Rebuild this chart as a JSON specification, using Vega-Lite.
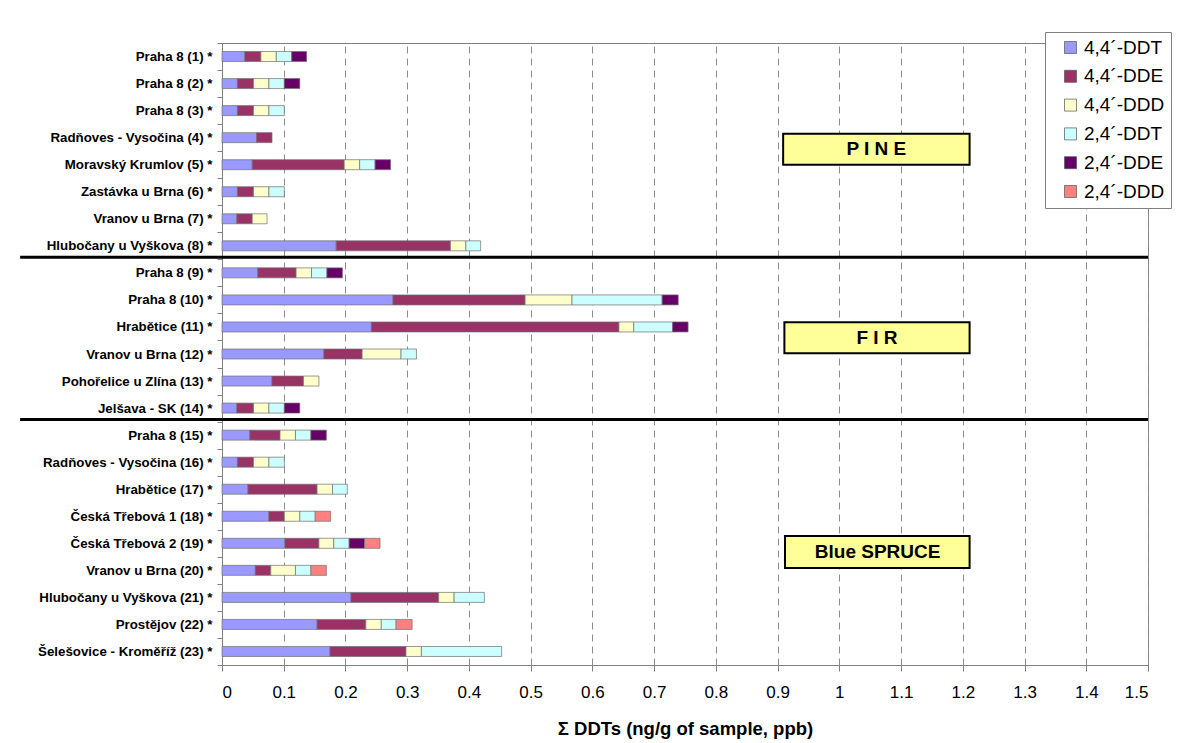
{
  "$schema": "https://vega.github.io/schema/vega-lite/v6.json",
  "width": 926,
  "height": 622,
  "autosize": {"type": "none"},
  "padding": {"left": 222, "top": 43, "right": 45, "bottom": 78},
  "background": "white",
  "config": {
    "font": "Liberation Sans",
    "view": {"stroke": "#808080", "strokeWidth": 1},
    "axis": {"labelColor": "black", "titleColor": "black", "domainColor": "#808080", "tickColor": "#808080"}
  },
  "datasets": {
    "ddt": [
      {"site": "Praha 8 (1) *", "compound": "4,4´-DDT", "n": 1, "value": 0.037},
      {"site": "Praha 8 (1) *", "compound": "4,4´-DDE", "n": 2, "value": 0.026},
      {"site": "Praha 8 (1) *", "compound": "4,4´-DDD", "n": 3, "value": 0.025},
      {"site": "Praha 8 (1) *", "compound": "2,4´-DDT", "n": 4, "value": 0.025},
      {"site": "Praha 8 (1) *", "compound": "2,4´-DDE", "n": 5, "value": 0.024},
      {"site": "Praha 8 (2) *", "compound": "4,4´-DDT", "n": 1, "value": 0.025},
      {"site": "Praha 8 (2) *", "compound": "4,4´-DDE", "n": 2, "value": 0.026},
      {"site": "Praha 8 (2) *", "compound": "4,4´-DDD", "n": 3, "value": 0.025},
      {"site": "Praha 8 (2) *", "compound": "2,4´-DDT", "n": 4, "value": 0.025},
      {"site": "Praha 8 (2) *", "compound": "2,4´-DDE", "n": 5, "value": 0.025},
      {"site": "Praha 8 (3) *", "compound": "4,4´-DDT", "n": 1, "value": 0.025},
      {"site": "Praha 8 (3) *", "compound": "4,4´-DDE", "n": 2, "value": 0.026},
      {"site": "Praha 8 (3) *", "compound": "4,4´-DDD", "n": 3, "value": 0.025},
      {"site": "Praha 8 (3) *", "compound": "2,4´-DDT", "n": 4, "value": 0.025},
      {"site": "Radňoves - Vysočina (4) *", "compound": "4,4´-DDT", "n": 1, "value": 0.056},
      {"site": "Radňoves - Vysočina (4) *", "compound": "4,4´-DDE", "n": 2, "value": 0.025},
      {"site": "Moravský Krumlov (5) *", "compound": "4,4´-DDT", "n": 1, "value": 0.049},
      {"site": "Moravský Krumlov (5) *", "compound": "4,4´-DDE", "n": 2, "value": 0.149},
      {"site": "Moravský Krumlov (5) *", "compound": "4,4´-DDD", "n": 3, "value": 0.025},
      {"site": "Moravský Krumlov (5) *", "compound": "2,4´-DDT", "n": 4, "value": 0.025},
      {"site": "Moravský Krumlov (5) *", "compound": "2,4´-DDE", "n": 5, "value": 0.025},
      {"site": "Zastávka u Brna (6) *", "compound": "4,4´-DDT", "n": 1, "value": 0.025},
      {"site": "Zastávka u Brna (6) *", "compound": "4,4´-DDE", "n": 2, "value": 0.026},
      {"site": "Zastávka u Brna (6) *", "compound": "4,4´-DDD", "n": 3, "value": 0.025},
      {"site": "Zastávka u Brna (6) *", "compound": "2,4´-DDT", "n": 4, "value": 0.025},
      {"site": "Vranov u Brna (7) *", "compound": "4,4´-DDT", "n": 1, "value": 0.024},
      {"site": "Vranov u Brna (7) *", "compound": "4,4´-DDE", "n": 2, "value": 0.025},
      {"site": "Vranov u Brna (7) *", "compound": "4,4´-DDD", "n": 3, "value": 0.024},
      {"site": "Hlubočany u Vyškova (8) *", "compound": "4,4´-DDT", "n": 1, "value": 0.185},
      {"site": "Hlubočany u Vyškova (8) *", "compound": "4,4´-DDE", "n": 2, "value": 0.185},
      {"site": "Hlubočany u Vyškova (8) *", "compound": "4,4´-DDD", "n": 3, "value": 0.025},
      {"site": "Hlubočany u Vyškova (8) *", "compound": "2,4´-DDT", "n": 4, "value": 0.024},
      {"site": "Praha 8 (9) *", "compound": "4,4´-DDT", "n": 1, "value": 0.058},
      {"site": "Praha 8 (9) *", "compound": "4,4´-DDE", "n": 2, "value": 0.062},
      {"site": "Praha 8 (9) *", "compound": "4,4´-DDD", "n": 3, "value": 0.025},
      {"site": "Praha 8 (9) *", "compound": "2,4´-DDT", "n": 4, "value": 0.025},
      {"site": "Praha 8 (9) *", "compound": "2,4´-DDE", "n": 5, "value": 0.025},
      {"site": "Praha 8 (10) *", "compound": "4,4´-DDT", "n": 1, "value": 0.277},
      {"site": "Praha 8 (10) *", "compound": "4,4´-DDE", "n": 2, "value": 0.214},
      {"site": "Praha 8 (10) *", "compound": "4,4´-DDD", "n": 3, "value": 0.076},
      {"site": "Praha 8 (10) *", "compound": "2,4´-DDT", "n": 4, "value": 0.146},
      {"site": "Praha 8 (10) *", "compound": "2,4´-DDE", "n": 5, "value": 0.026},
      {"site": "Hrabětice (11) *", "compound": "4,4´-DDT", "n": 1, "value": 0.242},
      {"site": "Hrabětice (11) *", "compound": "4,4´-DDE", "n": 2, "value": 0.401},
      {"site": "Hrabětice (11) *", "compound": "4,4´-DDD", "n": 3, "value": 0.024},
      {"site": "Hrabětice (11) *", "compound": "2,4´-DDT", "n": 4, "value": 0.063},
      {"site": "Hrabětice (11) *", "compound": "2,4´-DDE", "n": 5, "value": 0.025},
      {"site": "Vranov u Brna (12) *", "compound": "4,4´-DDT", "n": 1, "value": 0.165},
      {"site": "Vranov u Brna (12) *", "compound": "4,4´-DDE", "n": 2, "value": 0.062},
      {"site": "Vranov u Brna (12) *", "compound": "4,4´-DDD", "n": 3, "value": 0.063},
      {"site": "Vranov u Brna (12) *", "compound": "2,4´-DDT", "n": 4, "value": 0.025},
      {"site": "Pohořelice u Zlína (13) *", "compound": "4,4´-DDT", "n": 1, "value": 0.081},
      {"site": "Pohořelice u Zlína (13) *", "compound": "4,4´-DDE", "n": 2, "value": 0.051},
      {"site": "Pohořelice u Zlína (13) *", "compound": "4,4´-DDD", "n": 3, "value": 0.025},
      {"site": "Jelšava - SK (14) *", "compound": "4,4´-DDT", "n": 1, "value": 0.024},
      {"site": "Jelšava - SK (14) *", "compound": "4,4´-DDE", "n": 2, "value": 0.027},
      {"site": "Jelšava - SK (14) *", "compound": "4,4´-DDD", "n": 3, "value": 0.025},
      {"site": "Jelšava - SK (14) *", "compound": "2,4´-DDT", "n": 4, "value": 0.025},
      {"site": "Jelšava - SK (14) *", "compound": "2,4´-DDE", "n": 5, "value": 0.025},
      {"site": "Praha 8 (15) *", "compound": "4,4´-DDT", "n": 1, "value": 0.045},
      {"site": "Praha 8 (15) *", "compound": "4,4´-DDE", "n": 2, "value": 0.049},
      {"site": "Praha 8 (15) *", "compound": "4,4´-DDD", "n": 3, "value": 0.025},
      {"site": "Praha 8 (15) *", "compound": "2,4´-DDT", "n": 4, "value": 0.025},
      {"site": "Praha 8 (15) *", "compound": "2,4´-DDE", "n": 5, "value": 0.025},
      {"site": "Radňoves - Vysočina (16) *", "compound": "4,4´-DDT", "n": 1, "value": 0.025},
      {"site": "Radňoves - Vysočina (16) *", "compound": "4,4´-DDE", "n": 2, "value": 0.026},
      {"site": "Radňoves - Vysočina (16) *", "compound": "4,4´-DDD", "n": 3, "value": 0.025},
      {"site": "Radňoves - Vysočina (16) *", "compound": "2,4´-DDT", "n": 4, "value": 0.025},
      {"site": "Hrabětice (17) *", "compound": "4,4´-DDT", "n": 1, "value": 0.042},
      {"site": "Hrabětice (17) *", "compound": "4,4´-DDE", "n": 2, "value": 0.112},
      {"site": "Hrabětice (17) *", "compound": "4,4´-DDD", "n": 3, "value": 0.025},
      {"site": "Hrabětice (17) *", "compound": "2,4´-DDT", "n": 4, "value": 0.024},
      {"site": "Česká Třebová 1 (18) *", "compound": "4,4´-DDT", "n": 1, "value": 0.076},
      {"site": "Česká Třebová 1 (18) *", "compound": "4,4´-DDE", "n": 2, "value": 0.025},
      {"site": "Česká Třebová 1 (18) *", "compound": "4,4´-DDD", "n": 3, "value": 0.025},
      {"site": "Česká Třebová 1 (18) *", "compound": "2,4´-DDT", "n": 4, "value": 0.025},
      {"site": "Česká Třebová 1 (18) *", "compound": "2,4´-DDD", "n": 6, "value": 0.025},
      {"site": "Česká Třebová 2 (19) *", "compound": "4,4´-DDT", "n": 1, "value": 0.102},
      {"site": "Česká Třebová 2 (19) *", "compound": "4,4´-DDE", "n": 2, "value": 0.055},
      {"site": "Česká Třebová 2 (19) *", "compound": "4,4´-DDD", "n": 3, "value": 0.024},
      {"site": "Česká Třebová 2 (19) *", "compound": "2,4´-DDT", "n": 4, "value": 0.025},
      {"site": "Česká Třebová 2 (19) *", "compound": "2,4´-DDE", "n": 5, "value": 0.025},
      {"site": "Česká Třebová 2 (19) *", "compound": "2,4´-DDD", "n": 6, "value": 0.025},
      {"site": "Vranov u Brna (20) *", "compound": "4,4´-DDT", "n": 1, "value": 0.054},
      {"site": "Vranov u Brna (20) *", "compound": "4,4´-DDE", "n": 2, "value": 0.025},
      {"site": "Vranov u Brna (20) *", "compound": "4,4´-DDD", "n": 3, "value": 0.040},
      {"site": "Vranov u Brna (20) *", "compound": "2,4´-DDT", "n": 4, "value": 0.025},
      {"site": "Vranov u Brna (20) *", "compound": "2,4´-DDD", "n": 6, "value": 0.025},
      {"site": "Hlubočany u Vyškova (21) *", "compound": "4,4´-DDT", "n": 1, "value": 0.209},
      {"site": "Hlubočany u Vyškova (21) *", "compound": "4,4´-DDE", "n": 2, "value": 0.142},
      {"site": "Hlubočany u Vyškova (21) *", "compound": "4,4´-DDD", "n": 3, "value": 0.025},
      {"site": "Hlubočany u Vyškova (21) *", "compound": "2,4´-DDT", "n": 4, "value": 0.049},
      {"site": "Prostějov (22) *", "compound": "4,4´-DDT", "n": 1, "value": 0.154},
      {"site": "Prostějov (22) *", "compound": "4,4´-DDE", "n": 2, "value": 0.079},
      {"site": "Prostějov (22) *", "compound": "4,4´-DDD", "n": 3, "value": 0.025},
      {"site": "Prostějov (22) *", "compound": "2,4´-DDT", "n": 4, "value": 0.024},
      {"site": "Prostějov (22) *", "compound": "2,4´-DDD", "n": 6, "value": 0.026},
      {"site": "Šelešovice - Kroměříž (23) *", "compound": "4,4´-DDT", "n": 1, "value": 0.175},
      {"site": "Šelešovice - Kroměříž (23) *", "compound": "4,4´-DDE", "n": 2, "value": 0.123},
      {"site": "Šelešovice - Kroměříž (23) *", "compound": "4,4´-DDD", "n": 3, "value": 0.025},
      {"site": "Šelešovice - Kroměříž (23) *", "compound": "2,4´-DDT", "n": 4, "value": 0.130}
    ],
    "sep": [
      {"site": "Hlubočany u Vyškova (8) *"},
      {"site": "Jelšava - SK (14) *"}
    ]
  },
  "layer": [
    {
      "data": {"name": "ddt"},
      "mark": {"type": "bar", "height": 10, "stroke": "#707070", "strokeWidth": 0.7},
      "encoding": {
        "y": {
          "field": "site", "type": "nominal",
          "scale": {
            "domain": ["Praha 8 (1) *", "Praha 8 (2) *", "Praha 8 (3) *", "Radňoves - Vysočina (4) *", "Moravský Krumlov (5) *", "Zastávka u Brna (6) *", "Vranov u Brna (7) *", "Hlubočany u Vyškova (8) *", "Praha 8 (9) *", "Praha 8 (10) *", "Hrabětice (11) *", "Vranov u Brna (12) *", "Pohořelice u Zlína (13) *", "Jelšava - SK (14) *", "Praha 8 (15) *", "Radňoves - Vysočina (16) *", "Hrabětice (17) *", "Česká Třebová 1 (18) *", "Česká Třebová 2 (19) *", "Vranov u Brna (20) *", "Hlubočany u Vyškova (21) *", "Prostějov (22) *", "Šelešovice - Kroměříž (23) *"],
            "paddingInner": 0, "paddingOuter": 0
          },
          "axis": {"title": null, "grid": false, "tickBand": "extent", "tickSize": 5, "labelFontSize": 13.3, "labelFontWeight": "bold", "labelPadding": 5, "labelFont": "Liberation Sans"}
        },
        "x": {
          "field": "value", "type": "quantitative", "stack": "zero",
          "scale": {"domain": [0, 1.5], "nice": false},
          "axis": {
            "title": "Σ DDTs (ng/g of sample, ppb)",
            "values": [0, 0.1, 0.2, 0.3, 0.4, 0.5, 0.6, 0.7, 0.8, 0.9, 1, 1.1, 1.2, 1.3, 1.4, 1.5],
            "format": "~g", "grid": true, "gridDash": [7, 5], "gridColor": "#8c8c8c",
            "tickSize": 6, "labelFontSize": 17, "labelPadding": 13,
            "titleFontSize": 18.5, "titleFontWeight": "bold", "titlePadding": 19
          }
        },
        "color": {
          "field": "compound", "type": "nominal",
          "scale": {
            "domain": ["4,4´-DDT", "4,4´-DDE", "4,4´-DDD", "2,4´-DDT", "2,4´-DDE", "2,4´-DDD"],
            "range": ["#9999FF", "#993366", "#FFFFCC", "#CCFFFF", "#660066", "#FF8080"]
          },
          "legend": {
            "orient": "none", "legendX": 823, "legendY": -11, "title": null,
            "symbolType": "square", "symbolSize": 144, "symbolStrokeColor": "#555555", "symbolStrokeWidth": 0.7,
            "symbolOffset": 10,
            "labelFontSize": 19, "labelColor": "black", "rowPadding": 8.8, "padding": 6,
            "strokeColor": "#808080", "fillColor": "white", "labelOffset": 4
          }
        },
        "order": {"field": "n", "type": "quantitative"}
      }
    },
    {
      "data": {"name": "sep"},
      "mark": {"type": "rule", "strokeWidth": 3, "color": "black", "clip": false, "yOffset": -2},
      "encoding": {
        "y": {"field": "site", "type": "nominal", "bandPosition": 1},
        "x": {"datum": -0.327},
        "x2": {"datum": 1.5}
      }
    },
    {
      "data": {"values": [{"label": "P I N E", "site": "Radňoves - Vysočina (4) *"}]},
      "encoding": {"y": {"field": "site", "type": "nominal"}},
      "layer": [
        {"mark": {"type": "bar", "height": 31, "yOffset": 11.5, "fill": "#FFFF99", "stroke": "black", "strokeWidth": 2}, "encoding": {"x": {"datum": 0.909}, "x2": {"datum": 1.211}}},
        {"mark": {"type": "text", "yOffset": 11.5, "fontSize": 19, "fontWeight": "bold", "color": "black", "baseline": "middle", "align": "center"}, "encoding": {"x": {"datum": 1.06}, "text": {"field": "label"}}}
      ]
    },
    {
      "data": {"values": [{"label": "F I R", "site": "Hrabětice (11) *"}]},
      "encoding": {"y": {"field": "site", "type": "nominal"}},
      "layer": [
        {"mark": {"type": "bar", "height": 31, "yOffset": 10.8, "fill": "#FFFF99", "stroke": "black", "strokeWidth": 2}, "encoding": {"x": {"datum": 0.911}, "x2": {"datum": 1.211}}},
        {"mark": {"type": "text", "yOffset": 10.8, "fontSize": 19, "fontWeight": "bold", "color": "black", "baseline": "middle", "align": "center"}, "encoding": {"x": {"datum": 1.061}, "text": {"field": "label"}}}
      ]
    },
    {
      "data": {"values": [{"label": "Blue SPRUCE", "site": "Česká Třebová 2 (19) *"}]},
      "encoding": {"y": {"field": "site", "type": "nominal"}},
      "layer": [
        {"mark": {"type": "bar", "height": 32, "yOffset": 8.6, "fill": "#FFFF99", "stroke": "black", "strokeWidth": 2}, "encoding": {"x": {"datum": 0.912}, "x2": {"datum": 1.211}}},
        {"mark": {"type": "text", "yOffset": 8.6, "fontSize": 19, "fontWeight": "bold", "color": "black", "baseline": "middle", "align": "center"}, "encoding": {"x": {"datum": 1.062}, "text": {"field": "label"}}}
      ]
    }
  ]
}
